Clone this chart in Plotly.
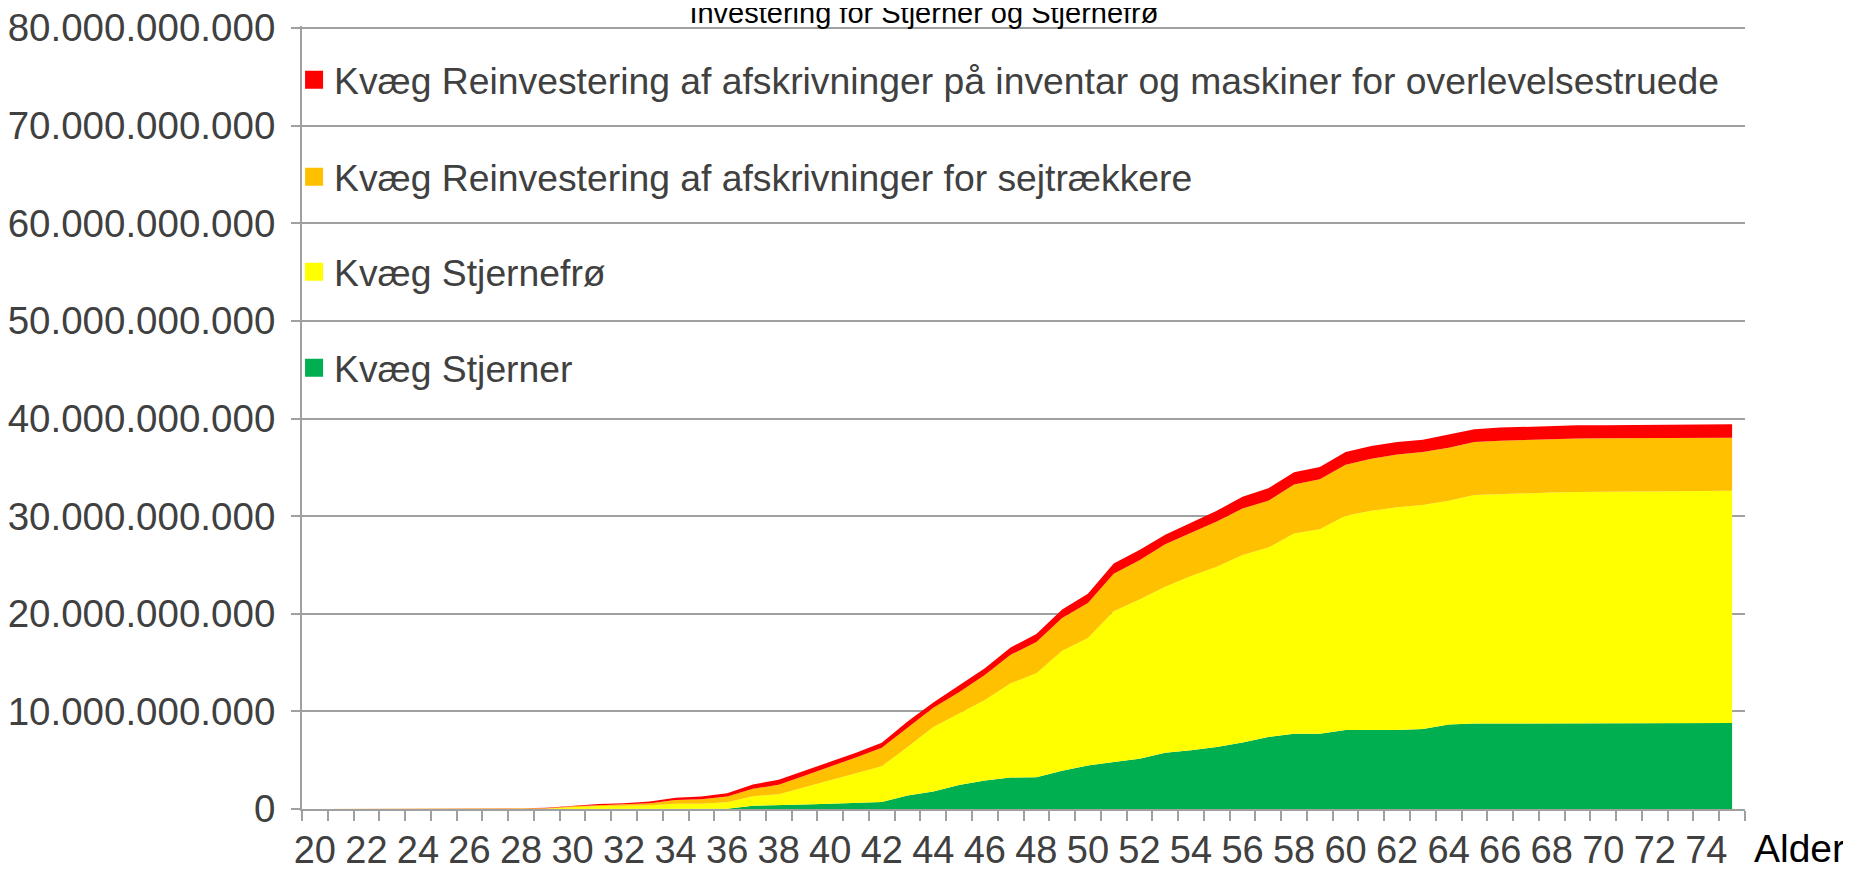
import plotly.graph_objects as go

# Age categories on the x axis
ages = list(range(20, 76))

# Values, in billions
stjerner = [0, 0, 0, 0, 0, 0, 0, 0, 0, 0,
            0, 0, 0, 0, 0, 0, 0.02, 0.34, 0.38, 0.45,
            0.55, 0.66, 0.72, 1.38, 1.79, 2.47, 2.92, 3.23, 3.26, 3.91,
            4.46, 4.81, 5.15, 5.77, 6.01, 6.35, 6.80, 7.38, 7.72, 7.72,
            8.10, 8.10, 8.10, 8.20, 8.65, 8.75, 8.75, 8.77, 8.80, 8.82,
            8.82, 8.82, 8.82, 8.82, 8.82, 8.82]
stjernefro = [0, 0, 0, 0, 0, 0, 0, 0, 0, 0.03,
              0.17, 0.31, 0.34, 0.38, 0.55, 0.55, 0.67, 0.97, 1.14, 1.79,
              2.38, 3.00, 3.66, 4.96, 6.62, 7.31, 8.24, 9.64, 10.64, 12.29,
              13.05, 15.44, 16.31, 16.99, 17.85, 18.47, 19.22, 19.40, 20.50, 20.94,
              21.94, 22.45, 22.80, 22.94, 22.93, 23.42, 23.52, 23.57, 23.62, 23.65,
              23.67, 23.68, 23.70, 23.75, 23.78, 23.79]
sejtraekkere = [0, 0, 0, 0, 0, 0, 0, 0, 0.03, 0.04,
                0.11, 0.10, 0.14, 0.21, 0.38, 0.45, 0.59, 0.76, 0.96, 1.17,
                1.38, 1.62, 1.90, 2.00, 1.96, 2.17, 2.57, 2.92, 3.20, 3.37,
                3.60, 3.85, 4.01, 4.36, 4.46, 4.63, 4.77, 4.80, 5.01, 5.12,
                5.22, 5.32, 5.42, 5.42, 5.43, 5.42, 5.46, 5.47, 5.48, 5.48,
                5.48, 5.48, 5.48, 5.45, 5.43, 5.43]
overlevelses = [0, 0, 0, 0, 0, 0, 0, 0, 0.04, 0.07,
                0.06, 0.11, 0.11, 0.17, 0.21, 0.28, 0.34, 0.45, 0.52, 0.52,
                0.52, 0.48, 0.51, 0.63, 0.55, 0.68, 0.69, 0.76, 0.82, 0.86,
                0.93, 1.06, 1.07, 0.96, 1.03, 1.10, 1.20, 1.27, 1.27, 1.24,
                1.30, 1.31, 1.27, 1.27, 1.34, 1.30, 1.34, 1.34, 1.35, 1.35,
                1.35, 1.35, 1.35, 1.36, 1.37, 1.37]

series = [
    ("Kvæg Stjerner", stjerner, "#00B050", "legend4"),
    ("Kvæg Stjernefrø", stjernefro, "#FFFF00", "legend3"),
    ("Kvæg Reinvestering af afskrivninger for sejtrækkere", sejtraekkere, "#FFC000", "legend2"),
    ("Kvæg Reinvestering af afskrivninger på inventar og maskiner for overlevelsestruede",
     overlevelses, "#FF0000", "legend"),
]

tick_ages = list(range(20, 75, 2))
y_ticks = [i * 1e10 for i in range(9)]

fig = go.Figure()

for name, vals, color, leg in series:
    fig.add_trace(go.Scatter(
        x=ages, y=[v * 1e9 for v in vals], stackgroup="one",
        mode="lines", line=dict(width=0, color=color), fillcolor=color,
        showlegend=False, hoverinfo="skip"))

# legend entries as square swatches
for name, vals, color, leg in series:
    fig.add_trace(go.Scatter(
        x=[None], y=[None], mode="markers", name=name, legend=leg,
        marker=dict(symbol="square", size=16, color=color,
                    line=dict(width=2, color=color))))

font = "Arial, Liberation Sans, sans-serif"
grey = "#A0A0A0"

# page has an 8px body margin, so the figure is drawn 8px smaller
W, H = 1851 - 8, 871 - 8
# y axis runs 2px past the top gridline so plotly keeps that gridline
y_top = 8e10 * (1 + 2 / 781)

legend_style = dict(x=-0.0055, xanchor="left", yanchor="middle",
                    bgcolor="rgba(0,0,0,0)", itemwidth=30,
                    font=dict(family=font, size=37.3, color="#404040"))
leg_rows = [80, 177, 272, 368]
for key, row in zip(["legend", "legend2", "legend3", "legend4"], leg_rows):
    fig.update_layout({key: dict(legend_style, y=(809 - row) / 783)})

fig.update_layout(
    width=W, height=H,
    margin=dict(l=294, r=106, t=18, b=62, autoexpand=False),
    paper_bgcolor="white", plot_bgcolor="white",
    separators=",.",
    font=dict(family=font, size=38, color="#404040"),
    title=dict(text="Investering for Stjerner og Stjernefrø", x=0.497, xanchor="center",
               y=1 - 5 / H, yref="container", yanchor="middle",
               font=dict(family=font, size=29, color="black")),
    xaxis=dict(range=[19.5, 75.5], tickmode="array", tickvals=tick_ages,
               ticktext=[str(a) for a in tick_ages], ticks="",
               showgrid=False, zeroline=False, showline=True, automargin=False,
               linecolor=grey, linewidth=2, ticklabelstandoff=6,
               minor=dict(tick0=19.5, dtick=1, ticks="outside", ticklen=10,
                          tickcolor=grey, tickwidth=2, showgrid=False),
               tickfont=dict(size=38, color="#404040")),
    yaxis=dict(range=[0, y_top], tickmode="array", tickvals=y_ticks,
               tickformat=",d", automargin=False, ticklabeloverflow="allow",
               showgrid=True, gridcolor=grey, gridwidth=2, zeroline=False,
               showline=True, linecolor=grey, linewidth=2,
               ticks="outside", ticklen=9, tickcolor=grey, tickwidth=2,
               ticklabelstandoff=8, tickfont=dict(size=38.5, color="#404040")),
    annotations=[dict(text="Alder", xref="paper", yref="paper",
                      x=(1847 - 302) / 1443, y=(809 - 848) / 783,
                      xanchor="right", yanchor="middle", showarrow=False,
                      font=dict(family=font, size=39, color="black"))],
)

fig.write_html("out.html")
